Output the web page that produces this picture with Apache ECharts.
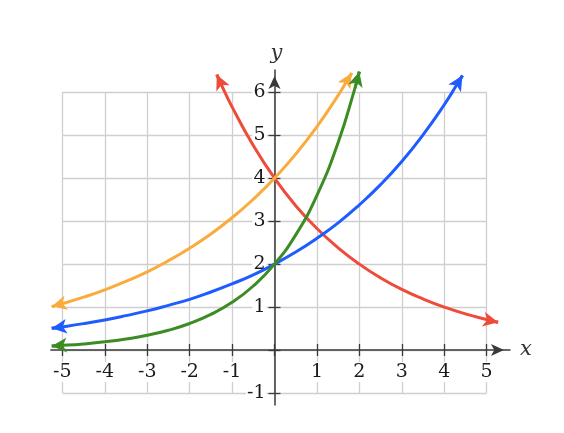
<!DOCTYPE html>
<html><head><meta charset="utf-8">
<script src="https://cdn.jsdelivr.net/npm/echarts@6/dist/echarts.min.js"></script>
<style>html,body{margin:0;padding:0;background:#fff}#c{width:564px;height:433px}</style>
</head><body><div id="c"></div>
<script>
// tick values
const xTicks = [-5, -4, -3, -2, -1, 0, 1, 2, 3, 4, 5];
const xTickLabels = [-5, -4, -3, -2, -1, 1, 2, 3, 4, 5];
const yTicks = [-1, 0, 1, 2, 3, 4, 5, 6];
const yTickLabels = [-1, 1, 2, 3, 4, 5, 6];

// curves: [x, y]
const redCurve = [[-1.36, 6.41], [-1.25, 6.17], [-1, 5.66], [-0.5, 4.76], [0, 4], [0.5, 3.36], [1, 2.83], [1.5, 2.38], [2, 2], [2.5, 1.68], [3, 1.41], [3.5, 1.19], [4, 1.0], [4.5, 0.84], [5, 0.71], [5.15, 0.67], [5.27, 0.645]];
const orangeCurve = [[-5.25, 1.01], [-5.1, 1.05], [-4.5, 1.23], [-4, 1.40], [-3.5, 1.60], [-3, 1.82], [-2.5, 2.08], [-2, 2.37], [-1.5, 2.70], [-1, 3.08], [-0.5, 3.51], [0, 4], [0.5, 4.56], [1, 5.2], [1.5, 5.93], [1.7, 6.25], [1.82, 6.45]];
const blueCurve = [[-5.25, 0.505], [-5.1, 0.525], [-4.5, 0.614], [-4, 0.70], [-3.5, 0.80], [-3, 0.91], [-2.5, 1.04], [-2, 1.18], [-1.5, 1.35], [-1, 1.54], [-0.5, 1.75], [0, 2], [0.5, 2.28], [1, 2.6], [1.5, 2.96], [2, 3.38], [2.5, 3.85], [3, 4.39], [3.5, 5.01], [4, 5.71], [4.3, 6.18], [4.43, 6.39]];
const greenCurve = [[-5.25, 0.091], [-5.1, 0.10], [-4.5, 0.142], [-4, 0.19], [-3.5, 0.256], [-3, 0.343], [-2.5, 0.46], [-2, 0.617], [-1.5, 0.828], [-1, 1.11], [-0.5, 1.49], [0, 2], [0.5, 2.68], [1, 3.6], [1.5, 4.83], [1.9, 6.11], [2.0, 6.48]];

const curves = [
  { name: 'red', data: redCurve, color: '#ef4b3a' },
  { name: 'orange', data: orangeCurve, color: '#f9ac3d' },
  { name: 'blue', data: blueCurve, color: '#1f5cff' },
  { name: 'green', data: greenCurve, color: '#3b8c24' }
];

const serif = "'DejaVu Serif', 'Liberation Serif', serif";
const X_MIN = -5.27, X_MAX = 5.55, Y_MIN = -1.28, Y_MAX = 6.52;
const UX = 42.43, UY = 42.95, X0 = 274.5, Y0 = 350;

// grid lines restricted to tick range
const gridLines = [];
xTicks.forEach(function (x) {
  gridLines.push([{ coord: [x, yTicks[0]] }, { coord: [x, yTicks[yTicks.length - 1]] }]);
});
yTicks.forEach(function (y) {
  gridLines.push([{ coord: [xTicks[0], y] }, { coord: [xTicks[xTicks.length - 1], y] }]);
});

const arrowSize = [11, 15];
function arrowLines(d) {
  const n = d.length;
  return [
    [{ coord: d[1], symbol: 'none' }, { coord: d[0], symbol: 'arrow', symbolSize: arrowSize }],
    [{ coord: d[n - 2], symbol: 'none' }, { coord: d[n - 1], symbol: 'arrow', symbolSize: arrowSize }]
  ];
}

const series = [{
  type: 'line', data: [], z: 1, silent: true,
  markLine: {
    silent: true, z: 1, animation: false, symbol: 'none',
    label: { show: false },
    lineStyle: { color: '#cfcfcf', width: 1.3, type: 'solid' },
    emphasis: { disabled: true },
    data: gridLines
  }
}];
curves.forEach(function (c) {
  series.push({
    name: c.name, type: 'line', data: c.data, smooth: true, showSymbol: false, z: 6,
    clip: false,
    lineStyle: { color: c.color, width: 3 },
    itemStyle: { color: c.color },
    markLine: {
      silent: true, z: 7, animation: false,
      label: { show: false },
      lineStyle: { color: c.color, width: 3, type: 'solid' },
      itemStyle: { color: c.color },
      emphasis: { disabled: true },
      data: arrowLines(c.data)
    }
  });
});

const axisLineStyle = { color: '#3a3a3a', width: 1.5 };
const tickStyle = { color: '#3a3a3a', width: 1.3 };
const labelStyle = { fontFamily: serif, fontSize: 19, color: '#1a1a1a', backgroundColor: '#fff' };
const option = {
  animation: false,
  grid: { left: X0 + X_MIN * UX, width: (X_MAX - X_MIN) * UX, top: Y0 - Y_MAX * UY, height: (Y_MAX - Y_MIN) * UY, containLabel: false },
  xAxis: [{
    type: 'value', min: X_MIN, max: X_MAX, position: 'bottom', z: 3,
    axisLine: { onZero: true, lineStyle: axisLineStyle, symbol: ['none', 'arrow'], symbolSize: [9, 13], symbolOffset: [0, -6] },
    axisTick: { show: true, length: 6, lineStyle: tickStyle, customValues: xTicks },
    axisLabel: { show: false },
    splitLine: { show: false },
    name: 'x', nameLocation: 'end', nameGap: 10,
    nameTextStyle: { fontFamily: serif, fontStyle: 'italic', fontSize: 21, color: '#333', verticalAlign: 'middle', padding: [8, 0, 0, 0] }
  }, {
    type: 'value', min: X_MIN, max: X_MAX, position: 'bottom', z: 3,
    axisLine: { show: false, onZero: false },
    offset: Y_MIN * UY,
    axisTick: { show: true, inside: true, length: 6, lineStyle: tickStyle, customValues: xTicks },
    axisLabel: Object.assign({ customValues: xTickLabels, margin: 12, padding: [1, 1, 0, 1] }, labelStyle),
    splitLine: { show: false }
  }],
  yAxis: [{
    type: 'value', min: Y_MIN, max: Y_MAX, position: 'left', z: 3,
    axisLine: { onZero: true, lineStyle: axisLineStyle, symbol: ['none', 'arrow'], symbolSize: [9, 13], symbolOffset: [0, -6] },
    axisTick: { show: true, length: 6, lineStyle: tickStyle, customValues: yTicks },
    axisLabel: { show: false },
    splitLine: { show: false },
    name: 'y', nameLocation: 'end', nameGap: 6,
    nameTextStyle: { fontFamily: serif, fontStyle: 'italic', fontSize: 21, color: '#333', align: 'center', padding: [0, 0, 0, 4] }
  }, {
    type: 'value', min: Y_MIN, max: Y_MAX, position: 'left', z: 3,
    axisLine: { show: false, onZero: false },
    offset: X_MIN * UX,
    axisTick: { show: true, inside: true, length: 6, lineStyle: tickStyle, customValues: yTicks },
    axisLabel: Object.assign({ customValues: yTickLabels, margin: 8, padding: [0, 1, 0, 1] }, labelStyle),
    splitLine: { show: false }
  }],
  series: series
};
const chart = echarts.init(document.getElementById('c'), null, { renderer: 'canvas' });
chart.setOption(option);
</script>
</body></html>
